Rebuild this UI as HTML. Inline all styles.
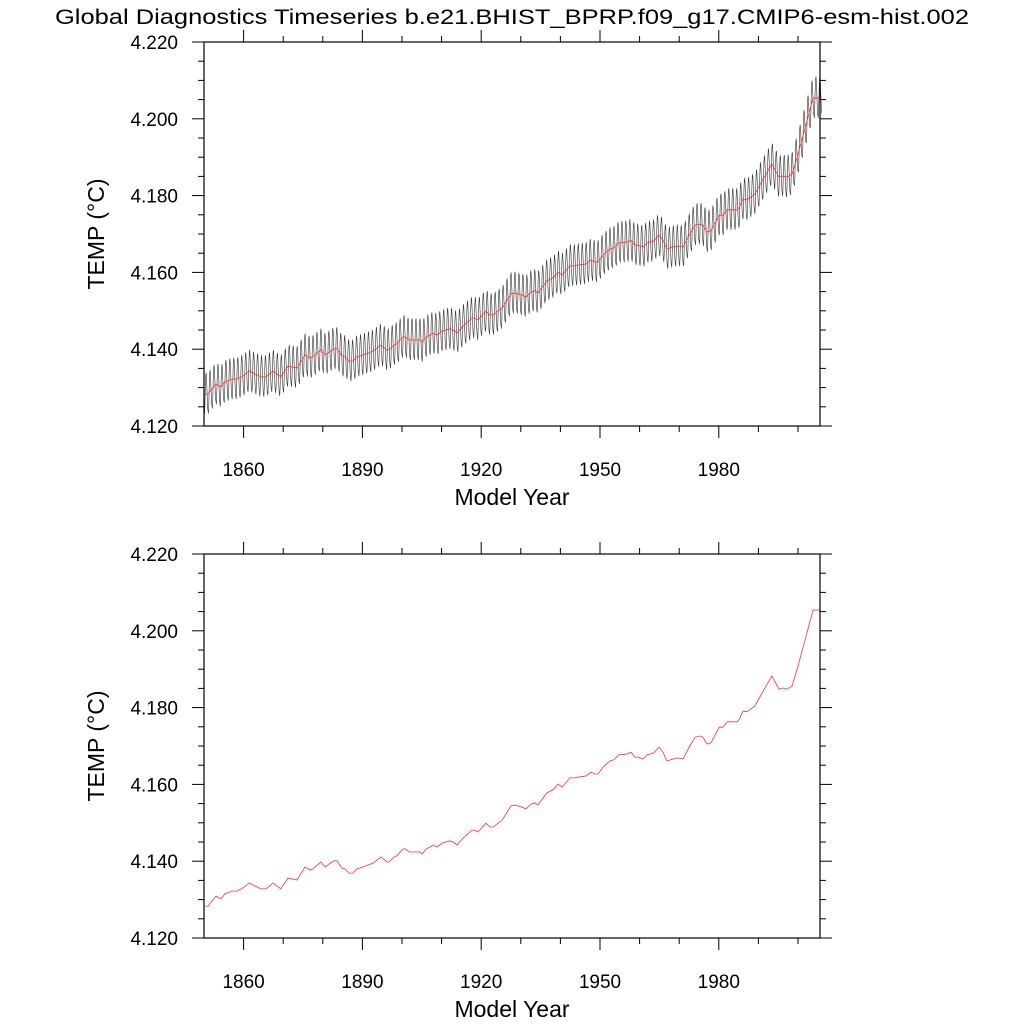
<!DOCTYPE html>
<html><head><meta charset="utf-8"><style>
html,body{margin:0;padding:0;background:#fff;}
svg{display:block;font-family:"Liberation Sans",sans-serif;}
</style></head><body>
<svg id="chart" width="1024" height="1024" viewBox="0 0 1024 1024" xmlns="http://www.w3.org/2000/svg">
<rect width="1024" height="1024" fill="#fff"/>
<text x="512" y="24" font-size="21" text-anchor="middle" textLength="914" lengthAdjust="spacingAndGlyphs">Global Diagnostics Timeseries b.e21.BHIST_BPRP.f09_g17.CMIP6-esm-hist.002</text>
</svg>
<script>
const annualYears=[1850.3,1851.0,1853.0,1854.3,1855.3,1857.1,1858.3,1859.8,1861.4,1862.4,1864.4,1865.7,1867.4,1869.4,1871.2,1873.5,1875.5,1876.8,1877.5,1879.5,1880.6,1882.8,1883.6,1884.8,1885.6,1886.6,1887.6,1888.6,1890.2,1892.7,1894.7,1896.2,1896.7,1898.0,1898.7,1900.3,1900.8,1901.8,1904.5,1905.1,1906.1,1907.1,1907.8,1908.8,1910.1,1912.1,1912.9,1913.9,1915.4,1917.7,1918.2,1919.2,1921.2,1922.2,1923.0,1925.3,1927.5,1928.5,1930.3,1931.3,1932.6,1933.6,1934.3,1936.6,1938.4,1939.4,1940.4,1942.4,1943.7,1944.4,1946.5,1947.7,1948.7,1949.5,1950.8,1952.5,1953.5,1954.8,1956.8,1957.8,1958.8,1959.6,1960.9,1961.9,1963.6,1964.9,1965.9,1966.9,1968.4,1969.7,1971.0,1972.0,1972.7,1974.0,1975.3,1976.0,1977.0,1978.0,1980.1,1981.1,1982.1,1984.6,1985.1,1986.1,1987.1,1989.1,1991.1,1993.4,1995.2,1996.2,1997.2,1998.5,2000.0,2002.0,2003.8,2005.5];
const annualTemp=[4.1283,4.1283,4.1309,4.1302,4.1315,4.1322,4.1322,4.1330,4.1343,4.1338,4.1328,4.1328,4.1343,4.1328,4.1356,4.1351,4.1385,4.1377,4.1380,4.1398,4.1385,4.1401,4.1401,4.1382,4.1380,4.1369,4.1369,4.1380,4.1385,4.1395,4.1411,4.1398,4.1398,4.1411,4.1414,4.1432,4.1432,4.1424,4.1424,4.1419,4.1432,4.1437,4.1442,4.1437,4.1447,4.1453,4.1450,4.1442,4.1460,4.1481,4.1481,4.1476,4.1499,4.1489,4.1489,4.1507,4.1544,4.1546,4.1541,4.1536,4.1549,4.1552,4.1546,4.1578,4.1588,4.1601,4.1593,4.1617,4.1617,4.1619,4.1622,4.1632,4.1627,4.1627,4.1645,4.1661,4.1664,4.1677,4.1679,4.1684,4.1671,4.1671,4.1666,4.1677,4.1682,4.1697,4.1684,4.1661,4.1666,4.1669,4.1666,4.1687,4.1700,4.1723,4.1726,4.1723,4.1705,4.1708,4.1749,4.1749,4.1763,4.1763,4.1768,4.1791,4.1789,4.1804,4.1841,4.1882,4.1848,4.1851,4.1848,4.1856,4.1908,4.1984,4.2054,4.2054];
const seasonalCycle=[-0.0046,-0.0052,-0.0032,0.0000,0.0032,0.0050,0.0056,0.0044,0.0022,0.0000,-0.0022,-0.0040];
const xTickYears=[1860,1890,1920,1950,1980];
const yTickValues=[4.120,4.140,4.160,4.180,4.200,4.220];
const yTickLabels=["4.120","4.140","4.160","4.180","4.200","4.220"];
</script>
<script>
const NS="http://www.w3.org/2000/svg";
const svg=document.getElementById('chart');
const X0=204,X1=820,XMIN=1850,XMAX=2005.56,YMIN=4.12,YMAX=4.22;
function xs(v){return X0+(v-XMIN)/(XMAX-XMIN)*(X1-X0);}
function mk(tag,attrs,parent){const e=document.createElementNS(NS,tag);for(const k in attrs)e.setAttribute(k,attrs[k]);(parent||svg).appendChild(e);return e;}
function interp(t){
  if(t<=annualYears[0])return annualTemp[0];
  for(let i=1;i<annualYears.length;i++){if(t<=annualYears[i]){const f=(t-annualYears[i-1])/(annualYears[i]-annualYears[i-1]);return annualTemp[i-1]+f*(annualTemp[i]-annualTemp[i-1]);}}
  return annualTemp[annualTemp.length-1];
}
function panel(top,bottom,idx,withMonthly){
  const ys=v=>bottom-(v-YMIN)/(YMAX-YMIN)*(bottom-top);
  const g=mk('g',{});
  
  
  if(withMonthly){
    let d='';
    for(let i=0;i<1872;i++){const t=XMIN+(i+0.5)/12;const v=interp(t)+seasonalCycle[i%12];d+=(i?'L':'M')+xs(t).toFixed(2)+' '+ys(v).toFixed(2);}
    const m=mk('path',{d:d,fill:'none',stroke:'#333','stroke-width':0.6},g);
    
    
  }
  let d2='';
  annualYears.forEach((yr,i)=>{d2+=(i?'L':'M')+xs(yr).toFixed(2)+' '+ys(annualTemp[i]).toFixed(2);});
  const a=mk('path',{d:d2,fill:'none',stroke:'#ff3030','stroke-width':0.8},g);
  
  
  const fr=mk('rect',{x:X0,y:top,width:X1-X0,height:bottom-top,fill:'none',stroke:'#000','stroke-width':1.2},g);
  
  
  for(let v=4.120;v<=4.2201;v+=0.005){
    const major=Math.abs(((v-4.12)/0.02)-Math.round((v-4.12)/0.02))<1e-6;
    const L=major?12:6,y=ys(v);
    mk('line',{x1:X0-L,y1:y,x2:X0,y2:y,stroke:'#000','stroke-width':1},g);
    mk('line',{x1:X1,y1:y,x2:X1+L,y2:y,stroke:'#000','stroke-width':1},g);
  }
  yTickValues.forEach((v,i)=>{
    const t=mk('text',{x:178,y:ys(v)+7,'font-size':19,'text-anchor':'end'},g);
    t.textContent=yTickLabels[i];
    
    
  });
  for(let yr=1860;yr<=2000;yr+=10){
    const major=xTickYears.indexOf(yr)>=0,L=major?12:6,x=xs(yr);
    mk('line',{x1:x,y1:bottom,x2:x,y2:bottom+L,stroke:'#000','stroke-width':1},g);
    mk('line',{x1:x,y1:top-L,x2:x,y2:top,stroke:'#000','stroke-width':1},g);
  }
  xTickYears.forEach(yr=>{
    const t=mk('text',{x:xs(yr),y:bottom+50,'font-size':19,'text-anchor':'middle'},g);
    t.textContent=String(yr);
    
    
  });
  const xt=mk('text',{x:512,y:bottom+79,'font-size':23,'text-anchor':'middle'},g);
  xt.textContent='Model Year';
  
  
  const cy=(top+bottom)/2;
  const yt=mk('text',{x:104,y:cy,'font-size':23,'text-anchor':'middle',transform:'rotate(-90 104 '+cy+')'},g);
  yt.textContent='TEMP (\u00B0C)';
  
  
}
panel(42,426,'top',true);
panel(554,938,'bottom',false);
</script>
</body></html>
